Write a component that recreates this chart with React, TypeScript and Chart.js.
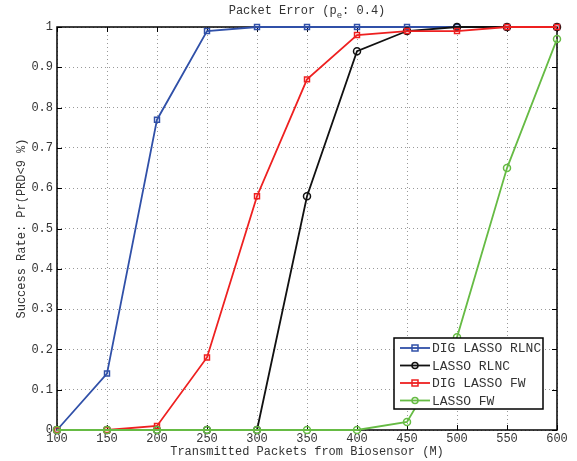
import React, { useEffect, useRef } from "react";
import { Chart, registerables } from "chart.js";

Chart.register(...registerables);

const xValues = [100, 150, 200, 250, 300, 350, 400, 450, 500, 550, 600];
const digLassoRlnc = [0, 0.14, 0.77, 0.99, 1, 1, 1, 1, 1, 1, 1];
const lassoRlnc = [0, 0, 0, 0, 0, 0.58, 0.94, 0.99, 1, 1, 1];
const digLassoFw = [0, 0, 0.01, 0.18, 0.58, 0.87, 0.98, 0.99, 0.99, 1, 1];
const lassoFw = [0, 0, 0, 0, 0, 0, 0, 0.02, 0.23, 0.65, 0.97];
const seriesLabels = ["DIG LASSO RLNC", "LASSO RLNC", "DIG LASSO FW", "LASSO FW"];
const seriesColors = ["#3050a8", "#111111", "#ee2020", "#66bb44"];
const seriesMarkers = ["rect", "circle", "rect", "circle"];
const titleMain = "Packet Error (p";
const titleSub = "e";
const titleEnd = ": 0.4)";
const xTitle = "Transmitted Packets from Biosensor (M)";
const yTitle = "Success Rate: Pr(PRD<9 %)";

const FONT = "'Liberation Mono', 'DejaVu Sans Mono', monospace";

function drawMarker(ctx: CanvasRenderingContext2D, kind: string, x: number, y: number, r: number) {
  ctx.beginPath();
  if (kind === "rect") {
    ctx.rect(x - r, y - r, 2 * r, 2 * r);
  } else {
    ctx.arc(x, y, r, 0, Math.PI * 2);
  }
  ctx.stroke();
}

const framePlugin = {
  id: "frame",
  beforeDatasetsDraw(chart: any) {
    const { ctx, chartArea } = chart;
    const { left, right, top, bottom } = chartArea;
    ctx.save();
    ctx.strokeStyle = "#000";
    ctx.lineWidth = 1;
    const xs = chart.scales.x;
    const ys = chart.scales.y;
    ctx.beginPath();
    xs.ticks.forEach((t: any) => {
      const px = Math.round(xs.getPixelForValue(t.value)) + 0.5;
      ctx.moveTo(px, bottom);
      ctx.lineTo(px, bottom - 5);
      ctx.moveTo(px, top);
      ctx.lineTo(px, top + 5);
    });
    ys.ticks.forEach((t: any) => {
      const py = Math.round(ys.getPixelForValue(t.value)) + 0.5;
      ctx.moveTo(left, py);
      ctx.lineTo(left + 5, py);
      ctx.moveTo(right, py);
      ctx.lineTo(right - 5, py);
    });
    ctx.stroke();
    ctx.lineWidth = 1.5;
    ctx.strokeRect(left, top, right - left, bottom - top);
    ctx.restore();
  },
  afterDraw(chart: any) {
    const { ctx, chartArea } = chart;
    ctx.save();
    // title with subscript
    ctx.fillStyle = "#333";
    ctx.textBaseline = "alphabetic";
    ctx.font = `12px ${FONT}`;
    const wMain = ctx.measureText(titleMain).width;
    const wEnd = ctx.measureText(titleEnd).width;
    ctx.font = `9px ${FONT}`;
    const wSub = ctx.measureText(titleSub).width;
    const total = wMain + wSub + wEnd;
    const cx = (chartArea.left + chartArea.right) / 2;
    let x0 = cx - total / 2;
    const by = 14;
    ctx.font = `12px ${FONT}`;
    ctx.textAlign = "left";
    ctx.fillText(titleMain, x0, by);
    ctx.font = `9px ${FONT}`;
    ctx.fillText(titleSub, x0 + wMain, by + 4);
    ctx.font = `12px ${FONT}`;
    ctx.fillText(titleEnd, x0 + wMain + wSub, by);

    // legend box
    const lx = 394, ly = 338, lw = 149, lh = 71;
    ctx.fillStyle = "#fff";
    ctx.fillRect(lx, ly, lw, lh);
    ctx.strokeStyle = "#000";
    ctx.lineWidth = 1.5;
    ctx.strokeRect(lx, ly, lw, lh);
    ctx.font = `13px ${FONT}`;
    ctx.textBaseline = "middle";
    chart.data.datasets.forEach((ds: any, i: number) => {
      const ry = ly + 10 + i * 17.5;
      ctx.strokeStyle = ds.borderColor;
      ctx.lineWidth = 1.8;
      ctx.beginPath();
      ctx.moveTo(lx + 6, ry);
      ctx.lineTo(lx + 36, ry);
      ctx.stroke();
      ctx.lineWidth = 1.5;
      drawMarker(ctx, ds.pointStyle, lx + 21, ry, 3);
      ctx.fillStyle = "#333";
      ctx.fillText(ds.label, lx + 38, ry + 1);
    });
    ctx.restore();
  },
};

export default function App() {
  const ref = useRef<HTMLCanvasElement | null>(null);
  useEffect(() => {
    if (!ref.current) return;
    const series = [digLassoRlnc, lassoRlnc, digLassoFw, lassoFw];
    const orders = [3, 2, 1, 0];
    const chart = new Chart(ref.current, {
      type: "line",
      data: {
        datasets: series.map((vals, i) => ({
          label: seriesLabels[i],
          data: xValues.map((x, j) => ({ x, y: vals[j] })),
          borderColor: seriesColors[i],
          backgroundColor: seriesColors[i],
          borderWidth: 1.8,
          pointStyle: seriesMarkers[i] as any,
          pointRadius: 3.5,
          pointBorderWidth: 1.5,
          pointBackgroundColor: "rgba(255,255,255,0)",
          pointBorderColor: seriesColors[i],
          tension: 0,
          fill: false,
          order: orders[i],
          clip: false as any,
        })),
      },
      options: {
        animation: false,
        responsive: false,
        layout: { padding: { top: 27, right: 20, left: 0, bottom: 0 } },
        plugins: {
          legend: { display: false },
          title: { display: false },
          tooltip: { enabled: false },
        },
        scales: {
          x: {
            type: "linear",
            min: 100,
            max: 600,
            ticks: {
              stepSize: 50,
              color: "#333",
              font: { family: FONT, size: 12 },
              padding: 2,
              maxRotation: 0,
            },
            grid: {
              color: "#999",
              lineWidth: 1,
              drawTicks: false,
            },
            border: { display: false, dash: [1, 3] },
            title: {
              display: true,
              text: xTitle,
              color: "#333",
              font: { family: FONT, size: 12 },
              padding: { top: 0, bottom: 2 },
            },
            afterFit: (s: any) => {
              s.height = 31;
            },
          },
          y: {
            min: 0,
            max: 1,
            ticks: {
              stepSize: 0.1,
              color: "#333",
              font: { family: FONT, size: 12 },
              padding: 4,
              callback: (v: any) => {
                const n = Number(v);
                if (Math.abs(n) < 1e-9) return "0";
                if (Math.abs(n - 1) < 1e-9) return "1";
                return n.toFixed(1);
              },
            },
            grid: {
              color: "#999",
              lineWidth: 1,
              drawTicks: false,
            },
            border: { display: false, dash: [1, 3] },
            title: {
              display: true,
              text: yTitle,
              color: "#333",
              font: { family: FONT, size: 12 },
              padding: { top: 15, bottom: 4 },
            },
            afterFit: (s: any) => {
              s.width = 57;
            },
          },
        },
      },
      plugins: [framePlugin],
    });
    return () => chart.destroy();
  }, []);
  return (
    <div style={{ position: "fixed", left: 0, top: 0, width: 577, height: 461, background: "#fff" }}>
      <canvas ref={ref} width={577} height={461} />
    </div>
  );
}
